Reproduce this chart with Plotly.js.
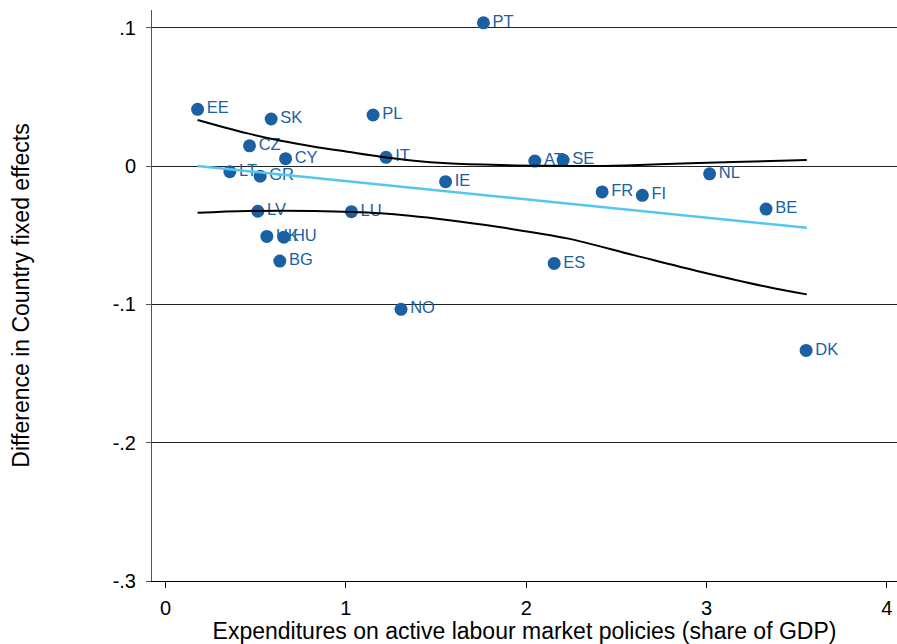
<!DOCTYPE html>
<html>
<head>
<meta charset="utf-8">
<script src="https://cdn.plot.ly/plotly-3.0.1.min.js"></script>
<style>html,body{margin:0;padding:0;background:#fff;}#chart{width:897px;height:644px;}</style>
</head>
<body>
<div id="chart"></div>
<script>
// Country scatter points
const countries = ['PT','EE','SK','PL','CZ','CY','IT','LT','GR','IE','AT','SE','NL','FR','FI','BE','LV','LU','UK','HU','BG','ES','NO','DK'];
const almp =      [1.763,0.178,0.586,1.151,0.466,0.666,1.223,0.357,0.525,1.553,2.048,2.205,3.017,2.421,2.644,3.330,0.512,1.031,0.562,0.656,0.634,2.155,1.306,3.552];
const fxDiff =    [0.1035,0.0410,0.0340,0.0369,0.0146,0.0053,0.0063,-0.0041,-0.0074,-0.0113,0.0036,0.0043,-0.0056,-0.0187,-0.0212,-0.0311,-0.0327,-0.0330,-0.0509,-0.0514,-0.0687,-0.0704,-0.1036,-0.1333];
const drawnLast = ['SE','HU'];

// Linear fit (endpoints)
const fitX = [0.178, 3.556];
const fitY = [0.0, -0.0446];

// Confidence band
const upX = [0.178,0.455,0.640,0.824,1.009,1.193,1.378,1.563,1.858,2.100,2.411,2.781,3.149,3.556];
const upY = [0.0333,0.0236,0.0183,0.0140,0.0103,0.0067,0.0038,0.0020,0.0007,0.0002,0.0000,0.0014,0.0029,0.0043];
const loX = [0.178,0.455,0.824,1.193,1.563,1.858,2.227,2.596,2.965,3.334,3.556];
const loY = [-0.0338,-0.0325,-0.0325,-0.0342,-0.0390,-0.0443,-0.0523,-0.0644,-0.0764,-0.0873,-0.0928];

const yTicks = [-0.3,-0.2,-0.1,0,0.1];
const yTickText = ['-.3','-.2','-.1','0','.1'];
const xTicks = [0,1,2,3,4];

const blue = '#1a61a3';
const font = 'Liberation Sans, Arial, sans-serif';

function pick(keep){
  const xs=[],ys=[],ts=[];
  countries.forEach((c,i)=>{ if(keep(c)){xs.push(almp[i]);ys.push(fxDiff[i]);ts.push(c);} });
  return {x:xs,y:ys,text:ts};
}
function pointTrace(d){
  return {type:'scatter',mode:'markers+text',x:d.x,y:d.y,text:d.text,
    textposition:'middle right',textfont:{family:font,size:16.5,color:blue},
    marker:{color:blue,size:13,line:{width:0}},hoverinfo:'skip',cliponaxis:false,showlegend:false};
}
const traces = [
  pointTrace(pick(c=>!drawnLast.includes(c))),
  pointTrace(pick(c=>drawnLast.includes(c))),
  {type:'scatter',mode:'lines',x:fitX,y:fitY,line:{color:'#55c6f2',width:2.5},showlegend:false,hoverinfo:'skip'},
  {type:'scatter',mode:'lines',x:upX,y:upY,line:{color:'#000',width:2,shape:'spline'},showlegend:false,hoverinfo:'skip'},
  {type:'scatter',mode:'lines',x:loX,y:loY,line:{color:'#000',width:2,shape:'spline'},showlegend:false,hoverinfo:'skip'}
];

const layout = {
  width:897,height:644,
  margin:{l:152,r:0,t:10,b:63},
  paper_bgcolor:'#fff',plot_bgcolor:'#fff',
  showlegend:false,
  font:{family:font,color:'#000'},
  xaxis:{range:[-0.0747,4.056],tickvals:xTicks,ticktext:xTicks.map(String),
    showgrid:false,zeroline:false,showline:true,linecolor:'#000',linewidth:1,
    ticks:'outside',ticklen:6,tickcolor:'#000',tickfont:{family:font,size:20,color:'#000'},
    ticklabelstandoff:3,
    title:{text:'Expenditures on active labour market policies (share of GDP)',font:{family:font,size:23,color:'#000'},standoff:0}},
  yaxis:{range:[-0.3,0.1128],tickvals:yTicks,ticktext:yTickText,
    showgrid:true,gridcolor:'#222',gridwidth:1,zeroline:false,showline:true,linecolor:'#555',linewidth:1,
    ticks:'outside',ticklen:5,tickcolor:'#555',tickfont:{family:font,size:20,color:'#000'},
    ticklabelstandoff:6,
    title:{text:'Difference in Country fixed effects',font:{family:font,size:23,color:'#000'},standoff:76}}
};
Plotly.newPlot('chart',traces,layout,{displayModeBar:false,staticPlot:true});
</script>
</body>
</html>
